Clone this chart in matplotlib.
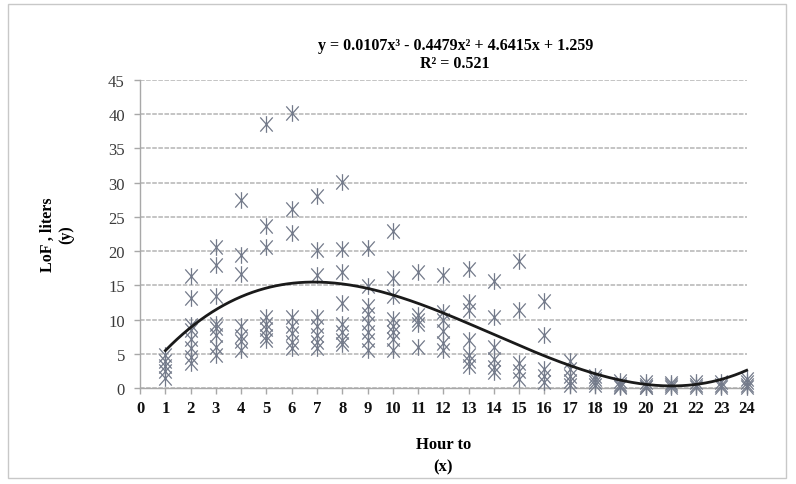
import numpy as np
import matplotlib
matplotlib.use("Agg")
import matplotlib.pyplot as plt
from matplotlib.patches import Rectangle
from matplotlib.path import Path

hour_values = {
    1: [4.8, 3.9, 3.2, 2.5, 1.5],
    2: [16.3, 13.2, 9.2, 8.4, 7.2, 5.8, 4.5, 3.6],
    3: [20.6, 17.9, 13.4, 9.4, 8.7, 7.8, 6.0, 4.8],
    4: [27.4, 19.4, 16.6, 9.0, 7.6, 6.8, 5.5],
    5: [38.6, 23.6, 20.6, 10.4, 9.4, 8.6, 7.6, 7.0],
    6: [40.2, 26.1, 22.6, 10.3, 9.0, 8.0, 6.7, 5.9],
    7: [28.1, 20.2, 16.5, 10.4, 9.0, 7.8, 6.7, 5.8],
    8: [30.1, 20.3, 16.9, 12.4, 9.4, 8.2, 7.0, 6.4],
    9: [20.5, 14.9, 12.0, 10.8, 9.5, 8.2, 7.0, 5.6],
    10: [23.0, 16.0, 13.4, 10.1, 9.0, 8.2, 7.2, 5.6],
    11: [16.9, 10.6, 10.0, 9.4, 6.0],
    12: [16.5, 11.1, 10.0, 8.3, 6.6, 5.6],
    13: [17.4, 12.6, 11.4, 7.0, 4.8, 4.0, 3.2],
    14: [15.6, 10.3, 6.0, 4.3, 3.1, 2.3],
    15: [18.6, 11.4, 3.7, 2.5, 1.3],
    16: [12.7, 7.7, 2.7, 1.8, 0.8],
    17: [4.0, 2.8, 1.8, 1.0, 0.4],
    18: [1.8, 1.3, 0.9, 0.5],
    19: [1.0, 0.6, 0.3, 0.1],
    20: [0.9, 0.5, 0.2, 0.1],
    21: [0.7, 0.4, 0.2],
    22: [0.8, 0.4, 0.2],
    23: [0.8, 0.5, 0.2],
    24: [1.3, 0.9, 0.5, 0.2],
}

# Trendline coefficients shown on the chart (cubic, highest power first)
trend_coefs = [0.0107, -0.4479, 4.6415, 1.259]
r_squared = 0.521

x_ticks = list(range(0, 25))
y_ticks = list(range(0, 50, 5))

xs = [h for h, vals in hour_values.items() for _ in vals]
ys = [v for vals in hour_values.values() for v in vals]

# Excel style "star" marker: an X with a vertical bar through it
star = Path(
    [(0, -1), (0, 1), (-0.75, -0.85), (0.75, 0.85), (-0.75, 0.85), (0.75, -0.85)],
    [Path.MOVETO, Path.LINETO, Path.MOVETO, Path.LINETO, Path.MOVETO, Path.LINETO],
)

plt.rcParams["font.family"] = ["Liberation Serif", "DejaVu Serif"]

fig = plt.figure(figsize=(7.96, 4.85), dpi=100)
ax = fig.add_axes([0.176, 0.198, 0.762, 0.635])

# Outer chart border
fig.patches.append(Rectangle((0.01, 0.012), 0.978, 0.978, transform=fig.transFigure,
                             fill=False, edgecolor="#c8c8c8", linewidth=1.0))

# Gridlines
ax.set_axisbelow(True)
ax.yaxis.grid(True, color="#b4b4b4", linewidth=1.1, linestyle=(0, (3, 1)))

# Scatter points
ax.plot(xs, ys, linestyle="none", marker=star, markersize=12,
        markeredgecolor="#737a8a", markerfacecolor="none", markeredgewidth=0.9,
        clip_on=False, zorder=3)

# Polynomial trendline
xt = np.linspace(1, 24, 300)
ax.plot(xt, np.polyval(trend_coefs, xt), color="#1a1a1a", linewidth=2.0, zorder=4,
        clip_on=False)

ax.set_xlim(0, 24)
ax.set_ylim(0, 45)
ax.set_xticks(x_ticks)
ax.set_yticks(y_ticks)
ax.set_xticklabels([str(t) for t in x_ticks], fontweight="bold", fontsize=12, color="#111111")
ax.set_yticklabels([str(t) for t in y_ticks], fontsize=12, color="#3a3a3a")

for side in ["top", "right"]:
    ax.spines[side].set_visible(False)
for side in ["left", "bottom"]:
    ax.spines[side].set_color("#a8a8a8")
    ax.spines[side].set_linewidth(1.0)
ax.tick_params(axis="both", direction="out", length=4, color="#a8a8a8", width=1.0)
ax.tick_params(axis="y", pad=7)
ax.tick_params(axis="x", pad=5)

ax.set_xlabel("Hour to\n(x)", fontweight="bold", fontsize=12, labelpad=14, linespacing=1.5)
ax.set_ylabel("LoF , liters\n(y)", fontweight="bold", fontsize=11.5, labelpad=24, linespacing=1.2)

# Trendline equation
fig.text(0.572, 0.905,
         "y = 0.0107x³ - 0.4479x² + 4.6415x + 1.259",
         ha="center", va="center", fontsize=11.5, fontweight="bold")
fig.text(0.572, 0.868, "R² = " + str(r_squared),
         ha="center", va="center", fontsize=11.5, fontweight="bold")

fig.savefig("out.png", dpi=100, facecolor="white")
